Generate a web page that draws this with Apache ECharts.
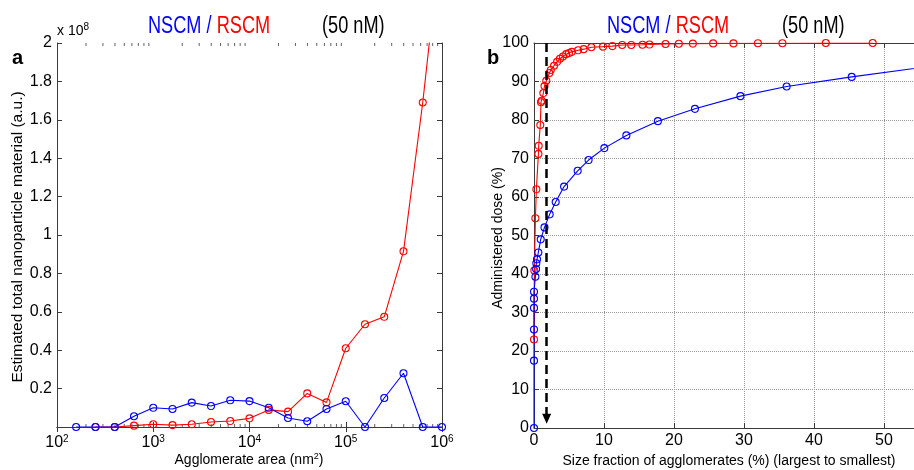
<!DOCTYPE html>
<html><head><meta charset="utf-8">
<script src="https://cdn.jsdelivr.net/npm/echarts@6/dist/echarts.min.js"></script>
<style>html,body{margin:0;padding:0;background:#fff}#c{width:914px;height:470px}</style>
</head><body><div id="c"></div>
<script>
// ---------- Panel a: agglomerate area bins (nm^2) ----------
const areaBins = [158, 251, 398, 631, 1000, 1585, 2512, 3981, 6310, 10000, 15849, 25119, 39811, 63096, 100000, 158489, 251189, 398107, 630957, 1000000];
// Estimated total nanoparticle material (units of 1e8 a.u.)
const nscmMaterial = [0, 0, 0, 0.056, 0.100, 0.094, 0.127, 0.109, 0.139, 0.135, 0.100, 0.047, 0.030, 0.094, 0.134, 0, 0.151, 0.280, 0, 0];
const rscmAreaBins = [251, 398, 631, 1000, 1585, 2512, 3981, 6310, 10000, 15849, 25119, 39811, 63096, 100000, 158489, 251189, 398107, 630957, 1000000];
const rscmMaterial = [0, 0, 0.007, 0.014, 0.010, 0.014, 0.026, 0.031, 0.045, 0.089, 0.080, 0.175, 0.128, 0.410, 0.535, 0.574, 0.915, 1.690, 2.600];
// ---------- Panel b: size fraction (%) vs administered dose (%) ----------
const rscmFraction = [0, 0.05, 0.2, 0.34, 0.63, 0.67, 0.9, 1.0, 1.1, 1.34, 1.5, 1.76, 2.2, 2.4, 2.86, 3.3, 3.7, 4.14, 4.6, 5.0, 5.4, 6.3, 7.1, 8.2, 9.86, 11.2, 12.6, 13.9, 15.5, 16.5, 18.8, 20.7, 22.7, 25.6, 28.5, 32, 35.5, 41.7, 48.4];
const rscmDose = [23, 40.9, 54.5, 62, 71.2, 73.3, 78.7, 84.6, 85, 87, 88.8, 90.2, 92.2, 93, 94.1, 95.1, 95.9, 96.5, 97.1, 97.4, 97.7, 98.1, 98.4, 98.9, 99.05, 99.2, 99.5, 99.5, 99.55, 99.6, 99.75, 99.8, 99.85, 99.9, 99.9, 99.95, 99.95, 100, 100];
const nscmFraction = [0, 0, 0, 0, 0, 0, 0.2, 0.3, 0.33, 0.43, 0.62, 0.96, 1.5, 2.24, 3.1, 4.3, 6.24, 7.8, 10.05, 13.2, 17.7, 23, 29.5, 36.1, 45.4, 56.5];
const nscmDose = [0, 17.5, 25.6, 31.2, 33.6, 35.4, 39.3, 41.3, 42.8, 43.8, 45.6, 49, 52.1, 55.5, 58.7, 62.7, 66.8, 69.6, 72.7, 76, 79.7, 82.9, 86.2, 88.7, 91.2, 93.9];
const cutoffFraction = 1.81;
const cutoffFrom = 100;
const cutoffTo = 2.4;
// ---------- tick values ----------
const logDecades = [2, 3, 4, 5];
const minorMultipliers = [2, 3, 4, 5, 6, 7, 8, 9];
const minorTicks = [];
logDecades.forEach(d => minorMultipliers.forEach(m => minorTicks.push(m * Math.pow(10, d))));

const FONT = '"Liberation Sans", Arial, sans-serif';
const AX = '#3a3a3a';
const BLUE = '#0000ff';
const RED = '#ff0000';
const pair = (xs, ys) => xs.map((x, i) => [x, ys[i]]);

const tickStyle = {inside: true, length: 5, lineStyle: {color: AX, width: 1}};
const lineStyleAx = {show: true, lineStyle: {color: AX, width: 1}};
const lblStyle = {color: '#000', fontSize: 16, fontFamily: FONT};
const gridDot = {show: true, lineStyle: {color: '#9c9c9c', type: 'dotted', width: 1}};

const chart = echarts.init(document.getElementById('c'), null, {renderer: 'canvas'});
const option = {
  animation: false,
  backgroundColor: '#fff',
  grid: [
    {left: 57, top: 43, width: 385, height: 384},
    {left: 534, top: 43, width: 380, height: 385}
  ],
  xAxis: [
    {gridIndex: 0, type: 'log', logBase: 10, min: 100, max: 1e6, position: 'bottom',
     axisLine: lineStyleAx, axisTick: tickStyle, splitLine: {show: false}, minorTick: {show: false},
     axisLabel: {margin: 7, formatter: v => '{b|10}{s|' + Math.round(Math.log10(v)) + '}',
       rich: {b: {fontSize: 16, fontFamily: FONT, color: '#000'}, s: {fontSize: 10, fontFamily: FONT, color: '#000', verticalAlign: 'top', padding: [0, 0, 8, 0]}}}},
    {gridIndex: 0, type: 'log', logBase: 10, min: 100, max: 1e6, position: 'top',
     axisLine: lineStyleAx, axisTick: tickStyle, splitLine: {show: false}, axisLabel: {show: false}},
    {gridIndex: 1, type: 'value', min: 0, max: 54.3, interval: 10, position: 'bottom',
     axisLine: lineStyleAx, axisTick: tickStyle, splitLine: gridDot,
     axisLabel: Object.assign({margin: 5, showMaxLabel: false}, lblStyle)},
    {gridIndex: 1, type: 'value', min: 0, max: 54.3, interval: 10, position: 'top',
     axisLine: lineStyleAx, axisTick: tickStyle, splitLine: {show: false}, axisLabel: {show: false}}
  ],
  yAxis: [
    {gridIndex: 0, type: 'value', min: 0, max: 2, interval: 0.2, position: 'left',
     axisLine: lineStyleAx, axisTick: tickStyle, splitLine: {show: false},
     axisLabel: Object.assign({margin: 5, formatter: v => v === 0 ? '' : String(+v.toFixed(1))}, lblStyle)},
    {gridIndex: 0, type: 'value', min: 0, max: 2, interval: 0.2, position: 'right',
     axisLine: lineStyleAx, axisTick: tickStyle, splitLine: {show: false}, axisLabel: {show: false}},
    {gridIndex: 1, type: 'value', min: 0, max: 100, interval: 10, position: 'left',
     axisLine: lineStyleAx, axisTick: tickStyle, splitLine: gridDot,
     axisLabel: Object.assign({margin: 5}, lblStyle)}
  ],
  series: [
    {type: 'scatter', xAxisIndex: 0, yAxisIndex: 0, silent: true, symbol: 'rect', symbolSize: [1, 3], symbolOffset: [0, -1.5],
     itemStyle: {color: AX}, data: minorTicks.map(v => [v, 0]), z: 1},
    {type: 'scatter', xAxisIndex: 0, yAxisIndex: 0, silent: true, symbol: 'rect', symbolSize: [1, 3], symbolOffset: [0, 1.5],
     itemStyle: {color: AX}, data: minorTicks.map(v => [v, 2]), z: 1},
    {name: 'RSCM', type: 'line', xAxisIndex: 0, yAxisIndex: 0, data: pair(rscmAreaBins, rscmMaterial),
     symbol: 'circle', symbolSize: 7, showAllSymbol: true, clip: true,
     lineStyle: {color: RED, width: 1.1}, itemStyle: {color: 'transparent', borderColor: RED, borderWidth: 1.1}},
    {name: 'NSCM', type: 'line', xAxisIndex: 0, yAxisIndex: 0, data: pair(areaBins, nscmMaterial),
     symbol: 'circle', symbolSize: 7, showAllSymbol: true, clip: true,
     lineStyle: {color: BLUE, width: 1.1}, itemStyle: {color: 'transparent', borderColor: BLUE, borderWidth: 1.1}},
    {name: 'RSCM dose', type: 'line', xAxisIndex: 2, yAxisIndex: 2, data: pair(rscmFraction, rscmDose),
     symbol: 'circle', symbolSize: 7, showAllSymbol: true, clip: true,
     lineStyle: {color: RED, width: 1.1}, itemStyle: {color: 'transparent', borderColor: RED, borderWidth: 1.1}},
    {name: 'NSCM dose', type: 'line', xAxisIndex: 2, yAxisIndex: 2, data: pair(nscmFraction, nscmDose),
     symbol: 'circle', symbolSize: 7, showAllSymbol: true, clip: true,
     lineStyle: {color: BLUE, width: 1.1}, itemStyle: {color: 'transparent', borderColor: BLUE, borderWidth: 1.1}},
    {name: 'cutoff', type: 'line', xAxisIndex: 2, yAxisIndex: 2, data: [], clip: false, z: 5,
     markLine: {silent: true, animation: false, symbol: ['none', 'triangle'], symbolSize: [9, 10],
       lineStyle: {color: '#000', type: [9, 5], width: 2.5}, label: {show: false},
       data: [[{coord: [cutoffFraction, cutoffFrom]}, {coord: [cutoffFraction, cutoffTo]}]]}}
  ],
  graphic: [
    {type: 'text', x: 148, y: 27, scaleX: 0.79, style: {text: '{b|NSCM }{k|/ }{r|RSCM}', verticalAlign: 'middle',
      rich: {b: {fill: BLUE, fontSize: 23, fontFamily: FONT}, k: {fill: BLUE, fontSize: 23, fontFamily: FONT}, r: {fill: RED, fontSize: 23, fontFamily: FONT}}}},
    {type: 'text', x: 322, y: 27, scaleX: 0.79, style: {text: '(50 nM)', fill: '#000', font: '23px ' + FONT, verticalAlign: 'middle'}},
    {type: 'text', x: 607, y: 27, scaleX: 0.79, style: {text: '{b|NSCM }{k|/ }{r|RSCM}', verticalAlign: 'middle',
      rich: {b: {fill: BLUE, fontSize: 23, fontFamily: FONT}, k: {fill: BLUE, fontSize: 23, fontFamily: FONT}, r: {fill: RED, fontSize: 23, fontFamily: FONT}}}},
    {type: 'text', x: 782, y: 27, scaleX: 0.79, style: {text: '(50 nM)', fill: '#000', font: '23px ' + FONT, verticalAlign: 'middle'}},
    {type: 'text', x: 57, y: 31, style: {text: '{a|x 10}{s|8}', verticalAlign: 'middle',
      rich: {a: {fill: '#000', fontSize: 14, fontFamily: FONT}, s: {fill: '#000', fontSize: 10, fontFamily: FONT, verticalAlign: 'top', padding: [0, 0, 7, 0]}}}},
    {type: 'text', x: 12, y: 58, style: {text: 'a', fill: '#000', font: 'bold 20px ' + FONT, verticalAlign: 'middle'}},
    {type: 'text', x: 487, y: 58, style: {text: 'b', fill: '#000', font: 'bold 20px ' + FONT, verticalAlign: 'middle'}},
    {type: 'text', x: 18, y: 237, rotation: Math.PI / 2, style: {text: 'Estimated total nanoparticle material (a.u.)', fill: '#000', font: '15.5px ' + FONT, align: 'center', verticalAlign: 'middle'}},
    {type: 'text', x: 249, y: 460, style: {text: '{n|Agglomerate area (nm}{s|2}{n|)}', align: 'center', verticalAlign: 'middle',
      rich: {n: {fill: '#000', fontSize: 14, fontFamily: FONT}, s: {fill: '#000', fontSize: 9, fontFamily: FONT, verticalAlign: 'top', padding: [0, 0, 6, 0]}}}},
    {type: 'text', x: 498, y: 238, rotation: Math.PI / 2, style: {text: 'Administered dose (%)', fill: '#000', font: '14px ' + FONT, align: 'center', verticalAlign: 'middle'}},
    {type: 'text', x: 729, y: 461, style: {text: 'Size fraction of agglomerates (%) (largest to smallest)', fill: '#000', font: '14px ' + FONT, align: 'center', verticalAlign: 'middle'}}
  ]
};
chart.setOption(option);
</script>
</body></html>
